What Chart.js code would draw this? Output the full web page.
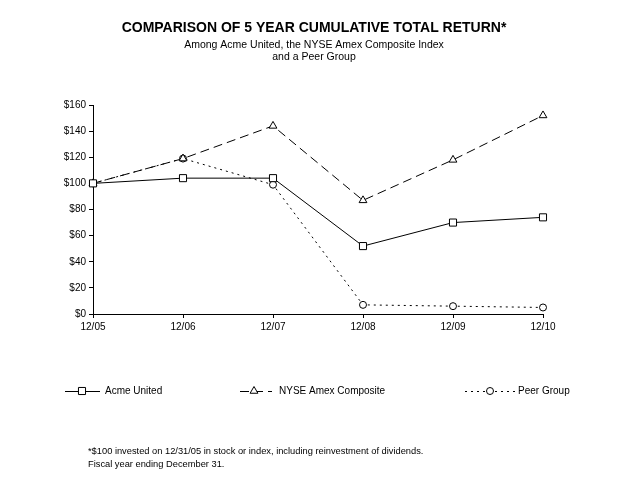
<!DOCTYPE html>
<html>
<head>
<meta charset="utf-8">
<script src="https://cdn.jsdelivr.net/npm/chart.js@4.4.1/dist/chart.umd.min.js"></script>
<style>
  html, body { margin: 0; padding: 0; background: #fff; }
  #wrap { width: 628px; height: 483px; position: relative; }
</style>
</head>
<body>
<div id="wrap"><canvas id="returnChart" width="628" height="483"></canvas></div>
<script>
'use strict';

const years = ['12/05', '12/06', '12/07', '12/08', '12/09', '12/10'];
const acmeUnited = [100, 104, 104, 52, 70, 74];
const nyseAmex = [100, 119, 144, 87, 118, 152];
const peerGroup = [100, 119, 99, 7, 6, 5];
const yTicks = [0, 20, 40, 60, 80, 100, 120, 140, 160];

const FONT = '"Liberation Sans", Arial, sans-serif';

// title, legend and footnote drawn on the canvas
const decorations = {
    id: 'decorations',
    afterDraw(chart) {
        const ctx = chart.ctx;
        ctx.save();
        ctx.fillStyle = '#000';
        ctx.textBaseline = 'middle';
        ctx.textAlign = 'center';
        ctx.font = 'bold 14px ' + FONT;
        ctx.fillText('COMPARISON OF 5 YEAR CUMULATIVE TOTAL RETURN*', 314, 28);
        ctx.font = '10.5px ' + FONT;
        ctx.fillText('Among Acme United, the NYSE Amex Composite Index', 314, 45);
        ctx.fillText('and a Peer Group', 314, 57);

        const items = [
            { ds: 0, x1: 65, x2: 100, mx: 82, tx: 105 },
            { ds: 1, x1: 240, x2: 272, mx: 254, tx: 279 },
            { ds: 2, x1: 465, x2: 515, mx: 490, tx: 518 }
        ];
        const ly = 391;
        items.forEach(it => {
            const d = chart.data.datasets[it.ds];
            ctx.strokeStyle = '#000';
            ctx.lineWidth = 1;
            ctx.setLineDash(d.borderDash || []);
            ctx.beginPath();
            ctx.moveTo(it.x1, ly + 0.5);
            ctx.lineTo(it.x2, ly + 0.5);
            ctx.stroke();
            ctx.setLineDash([]);
            ctx.fillStyle = '#fff';
            Chart.helpers.drawPoint(ctx, {
                pointStyle: d.pointStyle,
                radius: d.pointRadius,
                borderWidth: 1
            }, it.mx, ly);
            ctx.fillStyle = '#000';
            ctx.textAlign = 'left';
            ctx.font = '10px ' + FONT;
            ctx.fillText(d.label, it.tx, ly);
        });

        ctx.textAlign = 'left';
        ctx.font = '9.3px ' + FONT;
        ctx.fillText('*$100 invested on 12/31/05 in stock or index, including reinvestment of dividends.', 88, 451);
        ctx.fillText('Fiscal year ending December 31.', 88, 464);
        ctx.restore();
    }
};

const ctx = document.getElementById('returnChart').getContext('2d');

new Chart(ctx, {
    type: 'line',
    data: {
        labels: years,
        datasets: [
            {
                label: 'Acme United',
                data: acmeUnited,
                borderColor: '#000',
                borderWidth: 1,
                pointStyle: 'rect',
                pointRadius: 5,
                pointBackgroundColor: '#fff',
                pointBorderColor: '#000',
                pointBorderWidth: 1,
                tension: 0
            },
            {
                label: 'NYSE Amex Composite',
                data: nyseAmex,
                borderColor: '#000',
                borderWidth: 1,
                borderDash: [9, 5],
                pointStyle: 'triangle',
                pointRadius: 4.5,
                pointBackgroundColor: '#fff',
                pointBorderColor: '#000',
                pointBorderWidth: 1,
                tension: 0
            },
            {
                label: 'Peer Group',
                data: peerGroup,
                borderColor: '#000',
                borderWidth: 1,
                borderDash: [2, 4],
                pointStyle: 'circle',
                pointRadius: 3.5,
                pointBackgroundColor: '#fff',
                pointBorderColor: '#000',
                pointBorderWidth: 1,
                tension: 0
            }
        ]
    },
    options: {
        responsive: false,
        animation: false,
        layout: { padding: { left: 0, top: 105, right: 85, bottom: 149 } },
        plugins: {
            legend: { display: false },
            title: { display: false },
            tooltip: { enabled: false }
        },
        scales: {
            x: {
                offset: false,
                grid: { drawOnChartArea: false, drawTicks: true, tickLength: 4, color: '#000' },
                border: { color: '#000', width: 1 },
                ticks: { color: '#000', font: { family: FONT, size: 10 }, padding: 3, maxRotation: 0 },
                afterFit(scale) { scale.height = 20; }
            },
            y: {
                min: 0,
                max: 160,
                afterBuildTicks(scale) { scale.ticks = yTicks.map(v => ({ value: v })); },
                grid: { drawOnChartArea: false, drawTicks: true, tickLength: 4, color: '#000' },
                border: { color: '#000', width: 1 },
                ticks: {
                    color: '#000',
                    font: { family: FONT, size: 10 },
                    padding: 3,
                    callback: v => '$' + v
                },
                afterFit(scale) { scale.width = 93; }
            }
        }
    },
    plugins: [decorations]
});
</script>
</body>
</html>
